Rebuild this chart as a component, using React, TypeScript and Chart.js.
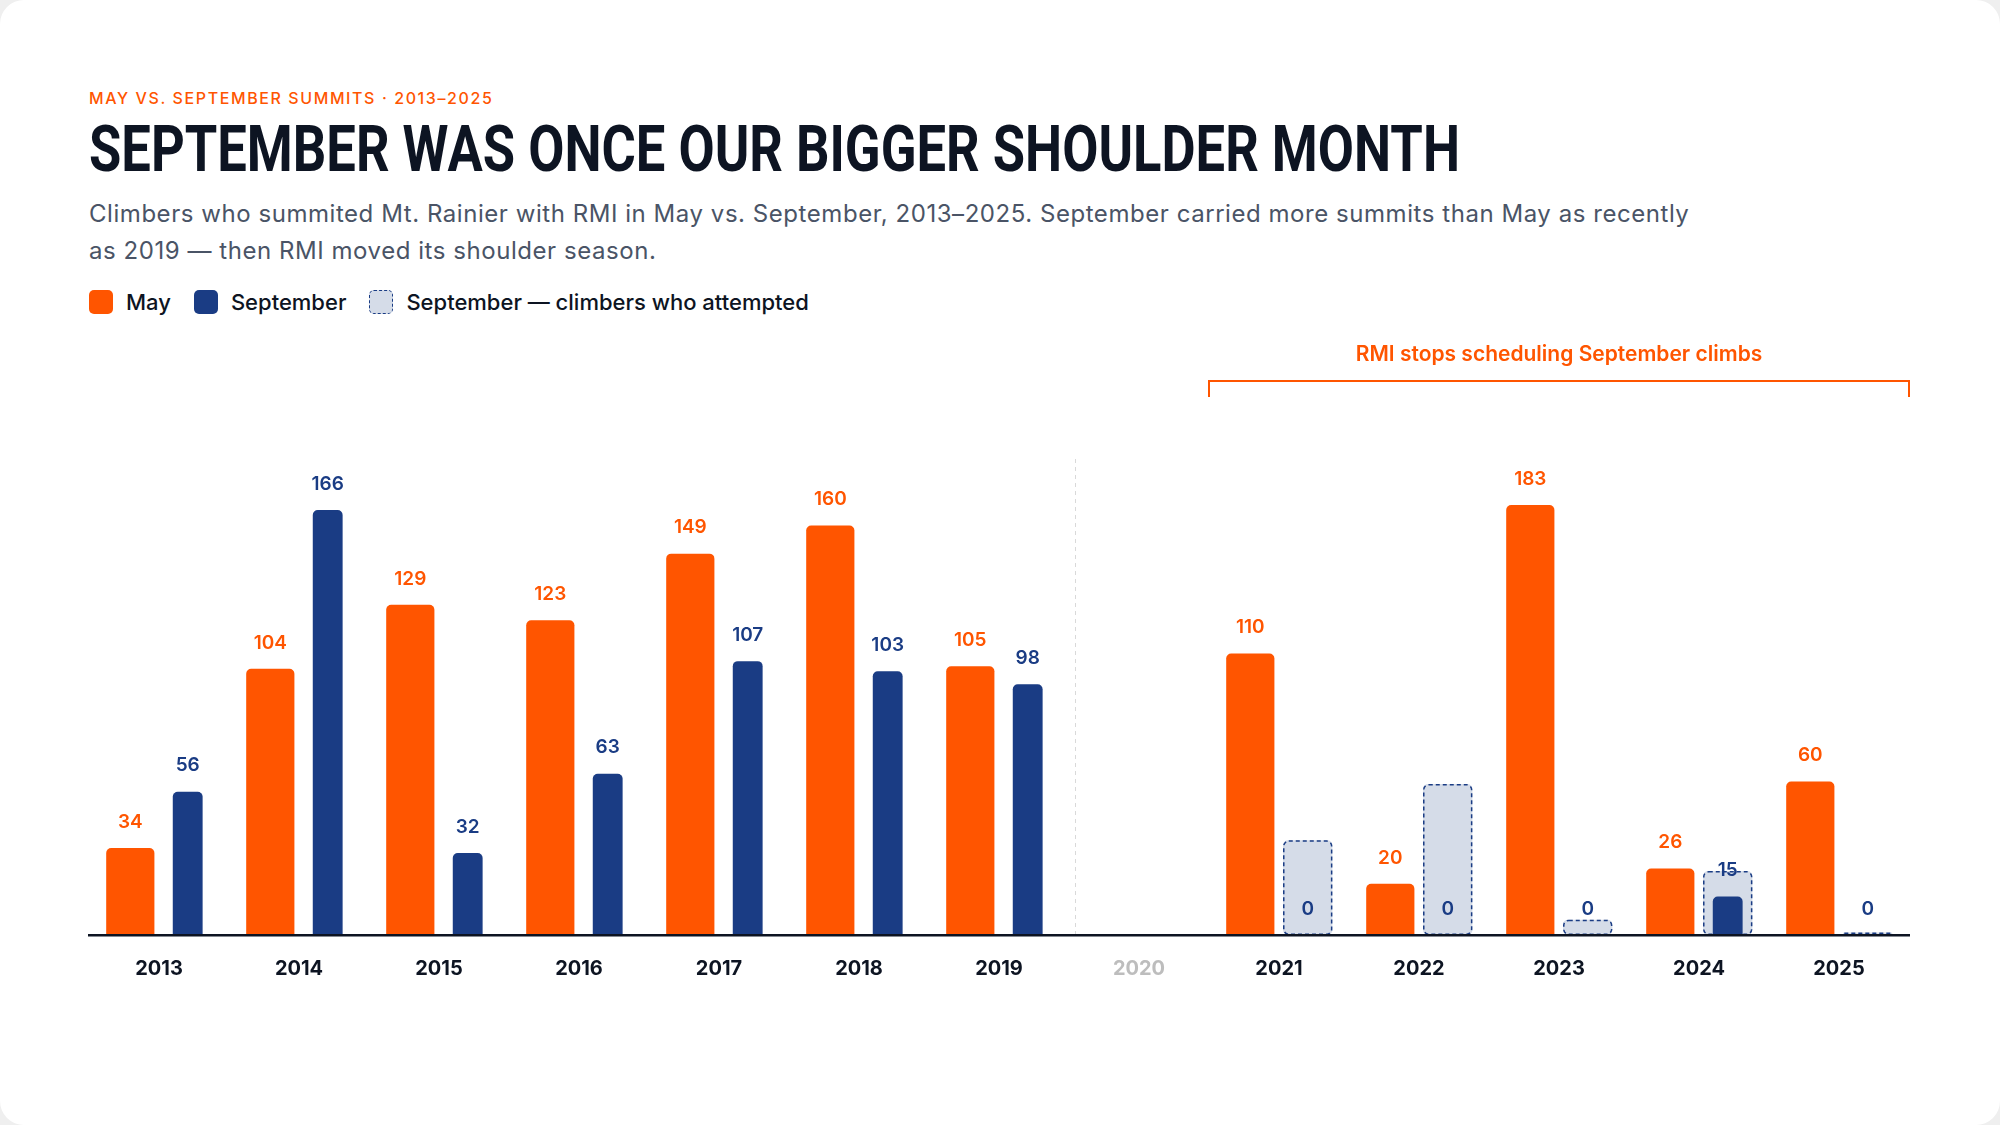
import React, { useEffect, useLayoutEffect, useRef } from "react";
import { Chart, registerables } from "chart.js";

Chart.register(...registerables);

// ---- data ----
const YEARS = ["2013", "2014", "2015", "2016", "2017", "2018", "2019", "2020", "2021", "2022", "2023", "2024", "2025"];
const MAY_SUMMITS = [34, 104, 129, 123, 149, 160, 105, null, 110, 20, 183, 26, 60];
const SEPT_SUMMITS = [56, 166, 32, 63, 107, 103, 98, null, 0, 0, 0, 15, 0];
const SEPT_ATTEMPTED = [null, null, null, null, null, null, null, null, 37, 59, 6, 25, 1];
const Y_MAX = 168;
const NO_DATA_YEAR = "2020";
const DIVIDER_AFTER_YEAR = "2019";
const BRACKET_FROM_YEAR = "2020";
const BRACKET_LABEL = "RMI stops scheduling September climbs";

// ---- style ----
const ORANGE = "#FF5500";
const NAVY = "#1A3C84";
const ATTEMPT_FILL = "#D5DCE8";
const INK = "#0D1422";
const MUTED = "#4A5466";
const SANS = "Inter, 'Open Sans', sans-serif";
const TITLE_WIDTH = 1371;

const overlayPlugin = {
  id: "overlay",
  beforeDatasetsDraw(chart: any) {
    const { ctx, chartArea, scales } = chart;
    const xs = scales.x;
    const i = YEARS.indexOf(DIVIDER_AFTER_YEAR);
    const a = xs.getPixelForValue(i);
    const b = xs.getPixelForValue(i + 1);
    const x = Math.round(a + (b - a) * 0.54) + 0.5;
    ctx.save();
    ctx.strokeStyle = "#D9D9D9";
    ctx.lineWidth = 1;
    ctx.setLineDash([4, 4]);
    ctx.beginPath();
    ctx.moveTo(x, chartArea.top - 46);
    ctx.lineTo(x, chartArea.bottom);
    ctx.stroke();
    ctx.restore();
  },
  afterDatasetDraw(chart: any, args: any) {
    if (args.index !== 2) return;
    const ctx = chart.ctx;
    ctx.save();
    ctx.setLineDash([4, 3]);
    ctx.lineWidth = 1.5;
    ctx.strokeStyle = NAVY;
    args.meta.data.forEach((el: any, i: number) => {
      if (SEPT_ATTEMPTED[i] == null) return;
      const { x, y, base, width } = el.getProps(["x", "y", "base", "width"], true);
      const left = x - width / 2 + 0.75;
      const top = y + 0.75;
      const w = width - 1.5;
      const h = Math.max(base - y - 1.5, 1);
      const r = Math.min(5, h / 2, w / 2);
      ctx.beginPath();
      ctx.roundRect(left, top, w, h, r);
      ctx.stroke();
    });
    ctx.restore();
  },
  afterDatasetsDraw(chart: any) {
    const { ctx, chartArea, scales } = chart;
    const xs = scales.x;
    ctx.save();
    ctx.textAlign = "center";
    ctx.textBaseline = "middle";
    ctx.font = `600 19px ${SANS}`;
    const sources = [
      { idx: 0, vals: MAY_SUMMITS, color: ORANGE },
      { idx: 1, vals: SEPT_SUMMITS, color: NAVY },
    ];
    sources.forEach(({ idx, vals, color }) => {
      const meta = chart.getDatasetMeta(idx);
      ctx.fillStyle = color;
      meta.data.forEach((el: any, i: number) => {
        const v = vals[i];
        if (v == null) return;
        const { x, y } = el.getProps(["x", "y"], true);
        ctx.fillText(String(v), x, y - 26);
      });
    });

    // bracket annotation
    const j = YEARS.indexOf(BRACKET_FROM_YEAR);
    const bx0 = Math.round((xs.getPixelForValue(j) + xs.getPixelForValue(j + 1)) / 2);
    const bx1 = Math.round(chartArea.right);
    const by = Math.round(chartArea.top - 124);
    ctx.strokeStyle = ORANGE;
    ctx.lineWidth = 2;
    ctx.beginPath();
    ctx.moveTo(bx0, by + 16);
    ctx.lineTo(bx0, by);
    ctx.lineTo(bx1, by);
    ctx.lineTo(bx1, by + 16);
    ctx.stroke();
    ctx.fillStyle = ORANGE;
    ctx.font = `600 21px ${SANS}`;
    ctx.fillText(BRACKET_LABEL, (bx0 + bx1) / 2, by - 26);
    ctx.restore();
  },
};

function ChartCanvas() {
  const ref = useRef<HTMLCanvasElement | null>(null);
  useEffect(() => {
    if (!ref.current) return;
    const chart = new Chart(ref.current, {
      type: "bar",
      data: {
        labels: YEARS,
        datasets: [
          {
            label: "May",
            data: MAY_SUMMITS.map((v) => (v == null ? null : Math.min(v, Y_MAX))),
            backgroundColor: ORANGE,
            borderWidth: 0,
            borderRadius: { topLeft: 5, topRight: 5, bottomLeft: 0, bottomRight: 0 },
            borderSkipped: false,
            stack: "may",
            barPercentage: 0.84,
            categoryPercentage: 0.82,
          },
          {
            label: "September",
            data: SEPT_SUMMITS,
            backgroundColor: NAVY,
            borderWidth: 0,
            borderRadius: { topLeft: 5, topRight: 5, bottomLeft: 0, bottomRight: 0 },
            borderSkipped: false,
            stack: "sep",
            barPercentage: 0.52,
            categoryPercentage: 0.82,
          },
          {
            label: "September — climbers who attempted",
            data: SEPT_ATTEMPTED,
            backgroundColor: ATTEMPT_FILL,
            borderWidth: 0,
            borderRadius: 5,
            borderSkipped: false,
            stack: "sep",
            barPercentage: 0.86,
            categoryPercentage: 0.82,
          },
        ],
      },
      options: {
        animation: false,
        responsive: true,
        maintainAspectRatio: false,
        layout: { padding: { left: 89, right: 91, top: 505, bottom: 122 } },
        plugins: { legend: { display: false }, tooltip: { enabled: false } },
        scales: {
          x: {
            stacked: true,
            grid: { display: false, drawTicks: false },
            border: { display: true, color: INK, width: 2.5, z: 1 },
            ticks: {
              padding: 22,
              font: { family: SANS, size: 20, weight: "bold" },
              color: (c: any) => (YEARS[c.index] === NO_DATA_YEAR ? "#BDBDBD" : INK),
            },
          },
          y: {
            display: false,
            stacked: false,
            min: 0,
            max: Y_MAX,
          },
        },
      },
      plugins: [overlayPlugin],
    } as any);
    return () => chart.destroy();
  }, []);
  return (
    <div style={{ position: "absolute", left: 0, top: 0, width: 2000, height: 1125 }}>
      <canvas ref={ref} />
    </div>
  );
}

function Swatch({ kind }: { kind: "may" | "sep" | "att" }) {
  const base: React.CSSProperties = { width: 24, height: 24, borderRadius: 5, boxSizing: "border-box", flex: "none" };
  if (kind === "may") return <div style={{ ...base, background: ORANGE }} />;
  if (kind === "sep") return <div style={{ ...base, background: NAVY }} />;
  return <div style={{ ...base, background: ATTEMPT_FILL, border: `1.5px dashed ${NAVY}` }} />;
}

function Title() {
  const ref = useRef<HTMLDivElement | null>(null);
  useLayoutEffect(() => {
    const el = ref.current;
    if (!el) return;
    el.style.transform = "none";
    const w = el.getBoundingClientRect().width;
    if (w > 0) el.style.transform = `scaleX(${TITLE_WIDTH / w})`;
  }, []);
  return (
    <div
      ref={ref}
      style={{
        position: "absolute",
        left: 89,
        top: 118,
        fontFamily: "Roboto, 'Noto Sans', sans-serif",
        fontSize: 64,
        lineHeight: "64px",
        fontWeight: 700,
        color: INK,
        whiteSpace: "nowrap",
        transformOrigin: "0 50%",
        display: "inline-block",
      }}
    >
      SEPTEMBER WAS ONCE OUR BIGGER SHOULDER MONTH
    </div>
  );
}

export default function App() {
  const legend = [
    { kind: "may" as const, text: "May" },
    { kind: "sep" as const, text: "September" },
    { kind: "att" as const, text: "September — climbers who attempted" },
  ];
  return (
    <div style={{ position: "fixed", left: 0, top: 0, width: 2000, height: 1125, background: "#EFEFEF", fontFamily: SANS }}>
      <div style={{ position: "absolute", inset: 0, background: "#FFFFFF", borderRadius: 24, overflow: "hidden" }}>
        <div style={{ position: "absolute", left: 89, top: 88, fontSize: 16, lineHeight: "20px", letterSpacing: 1.6, fontWeight: 500, color: ORANGE, whiteSpace: "nowrap" }}>
          MAY VS. SEPTEMBER SUMMITS · 2013–2025
        </div>
        <Title />
        <div style={{ position: "absolute", left: 89, top: 195, fontSize: 24, lineHeight: "37px", letterSpacing: 0.55, color: MUTED, whiteSpace: "nowrap" }}>
          Climbers who summited Mt. Rainier with RMI in May vs. September, 2013–2025. September carried more summits than May as recently
          <br />
          as 2019 — then RMI moved its shoulder season.
        </div>
        <div style={{ position: "absolute", left: 89, top: 288, height: 28, display: "flex", alignItems: "center", gap: 23 }}>
          {legend.map((l) => (
            <div key={l.kind} style={{ display: "flex", alignItems: "center", gap: 13 }}>
              <Swatch kind={l.kind} />
              <span style={{ fontSize: 22, fontWeight: 500, color: INK, whiteSpace: "nowrap" }}>{l.text}</span>
            </div>
          ))}
        </div>
        <ChartCanvas />
      </div>
    </div>
  );
}
